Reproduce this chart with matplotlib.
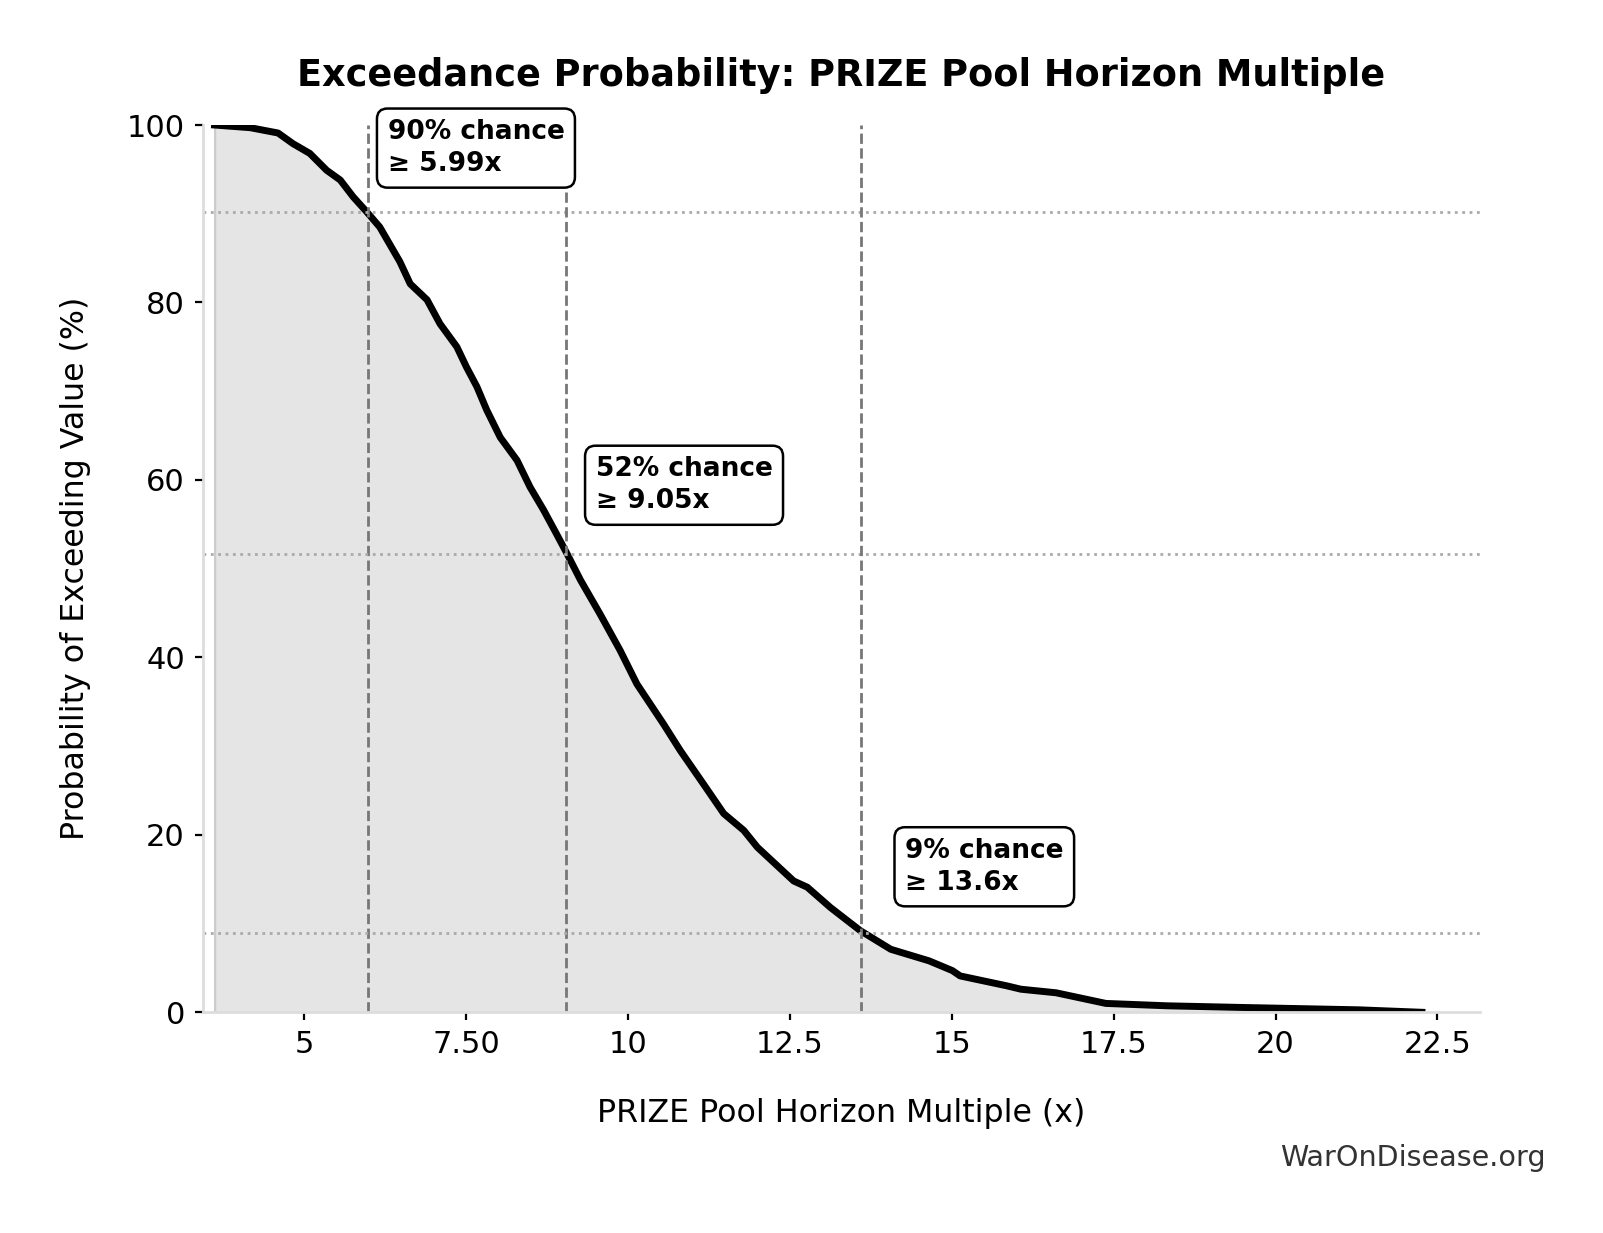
import numpy as np
import matplotlib
matplotlib.use("Agg")
import matplotlib.pyplot as plt

## Data
multiple = [3.62, 4.17, 4.60, 4.83, 5.09, 5.35, 5.56, 5.76, 5.97, 6.17, 6.48,
            6.64, 6.90, 7.10, 7.36, 7.51, 7.67, 7.82, 8.03, 8.29, 8.49, 8.70, 8.90,
            9.06, 9.27, 9.57, 9.88, 10.14, 10.55, 10.81, 11.17, 11.48, 11.79, 12.00,
            12.56, 12.77, 13.13, 13.59, 14.06, 14.65, 15.01, 15.13, 15.84, 16.07,
            16.61, 17.38, 18.33, 19.51, 21.28, 22.26]
exceed_pct = [100.0, 99.7, 99.1, 97.9, 96.8, 94.9, 93.8, 91.9, 90.2, 88.5, 84.6,
              82.1, 80.3, 77.6, 75.0, 72.7, 70.5, 67.9, 64.8, 62.2, 59.2, 56.6, 53.9,
              51.7, 48.7, 44.9, 40.8, 37.0, 32.5, 29.5, 25.7, 22.4, 20.5, 18.6,
              14.8, 14.1, 11.8, 9.2, 7.1, 5.8, 4.7, 4.1, 3.0, 2.6,
              2.2, 1.0, 0.73, 0.54, 0.28, 0.0]

marker_pct = [90, 52, 9]
marker_val = [5.99, 9.05, 13.6]
marker_line_pct = [90.2, 51.6, 8.9]

xticks = [5, 7.5, 10, 12.5, 15, 17.5, 20, 22.5]
xtick_labels = ['5', '7.50', '10', '12.5', '15', '17.5', '20', '22.5']
yticks = [0, 20, 40, 60, 80, 100]

## Plot
fig = plt.figure(figsize=(8.015, 6.165), dpi=200)
ax = fig.add_axes([0.1266, 0.179, 0.7964, 0.7196])

ax.fill_between(multiple, exceed_pct, 0, facecolor='#e5e5e5', edgecolor='#cccccc', linewidth=0.8)
ax.plot(multiple, exceed_pct, color='black', linewidth=2.5)

for p, v, hp in zip(marker_pct, marker_val, marker_line_pct):
    ax.axvline(v, ymin=0, ymax=1, color='#777777', linestyle='--', linewidth=1.0)
    ax.axhline(hp, color='#aaaaaa', linestyle=':', linewidth=1.0)
    ax.text(v * 1.05, p + 7.4, f"{p}% chance\n\u2265 {v:g}x", fontsize=9.5, fontweight='bold',
            ha='left', va='center', linespacing=1.3,
            bbox=dict(boxstyle='round,pad=0.4', facecolor='white', edgecolor='black', linewidth=0.9))

ax.set_xlim(3.44, 23.15)
ax.set_ylim(0, 100)
ax.set_xticks(xticks)
ax.set_xticklabels(xtick_labels)
ax.set_yticks(yticks)
ax.tick_params(labelsize=11, length=3, width=0.8)

for s in ['top', 'right']:
    ax.spines[s].set_visible(False)
for s in ['left', 'bottom']:
    ax.spines[s].set_color('#dddddd')
    ax.spines[s].set_linewidth(1.0)

ax.set_title('Exceedance Probability: PRIZE Pool Horizon Multiple', fontsize=13.2,
             fontweight='bold', pad=14)
ax.set_xlabel('PRIZE Pool Horizon Multiple (x)', fontsize=11.4, labelpad=14)
ax.set_ylabel('Probability of Exceeding Value (%)', fontsize=11.4, labelpad=13)

fig.text(0.964, 0.061, 'WarOnDisease.org', fontsize=10.3, color='#333333', ha='right', va='center')

fig.savefig('out.png', dpi=200)
